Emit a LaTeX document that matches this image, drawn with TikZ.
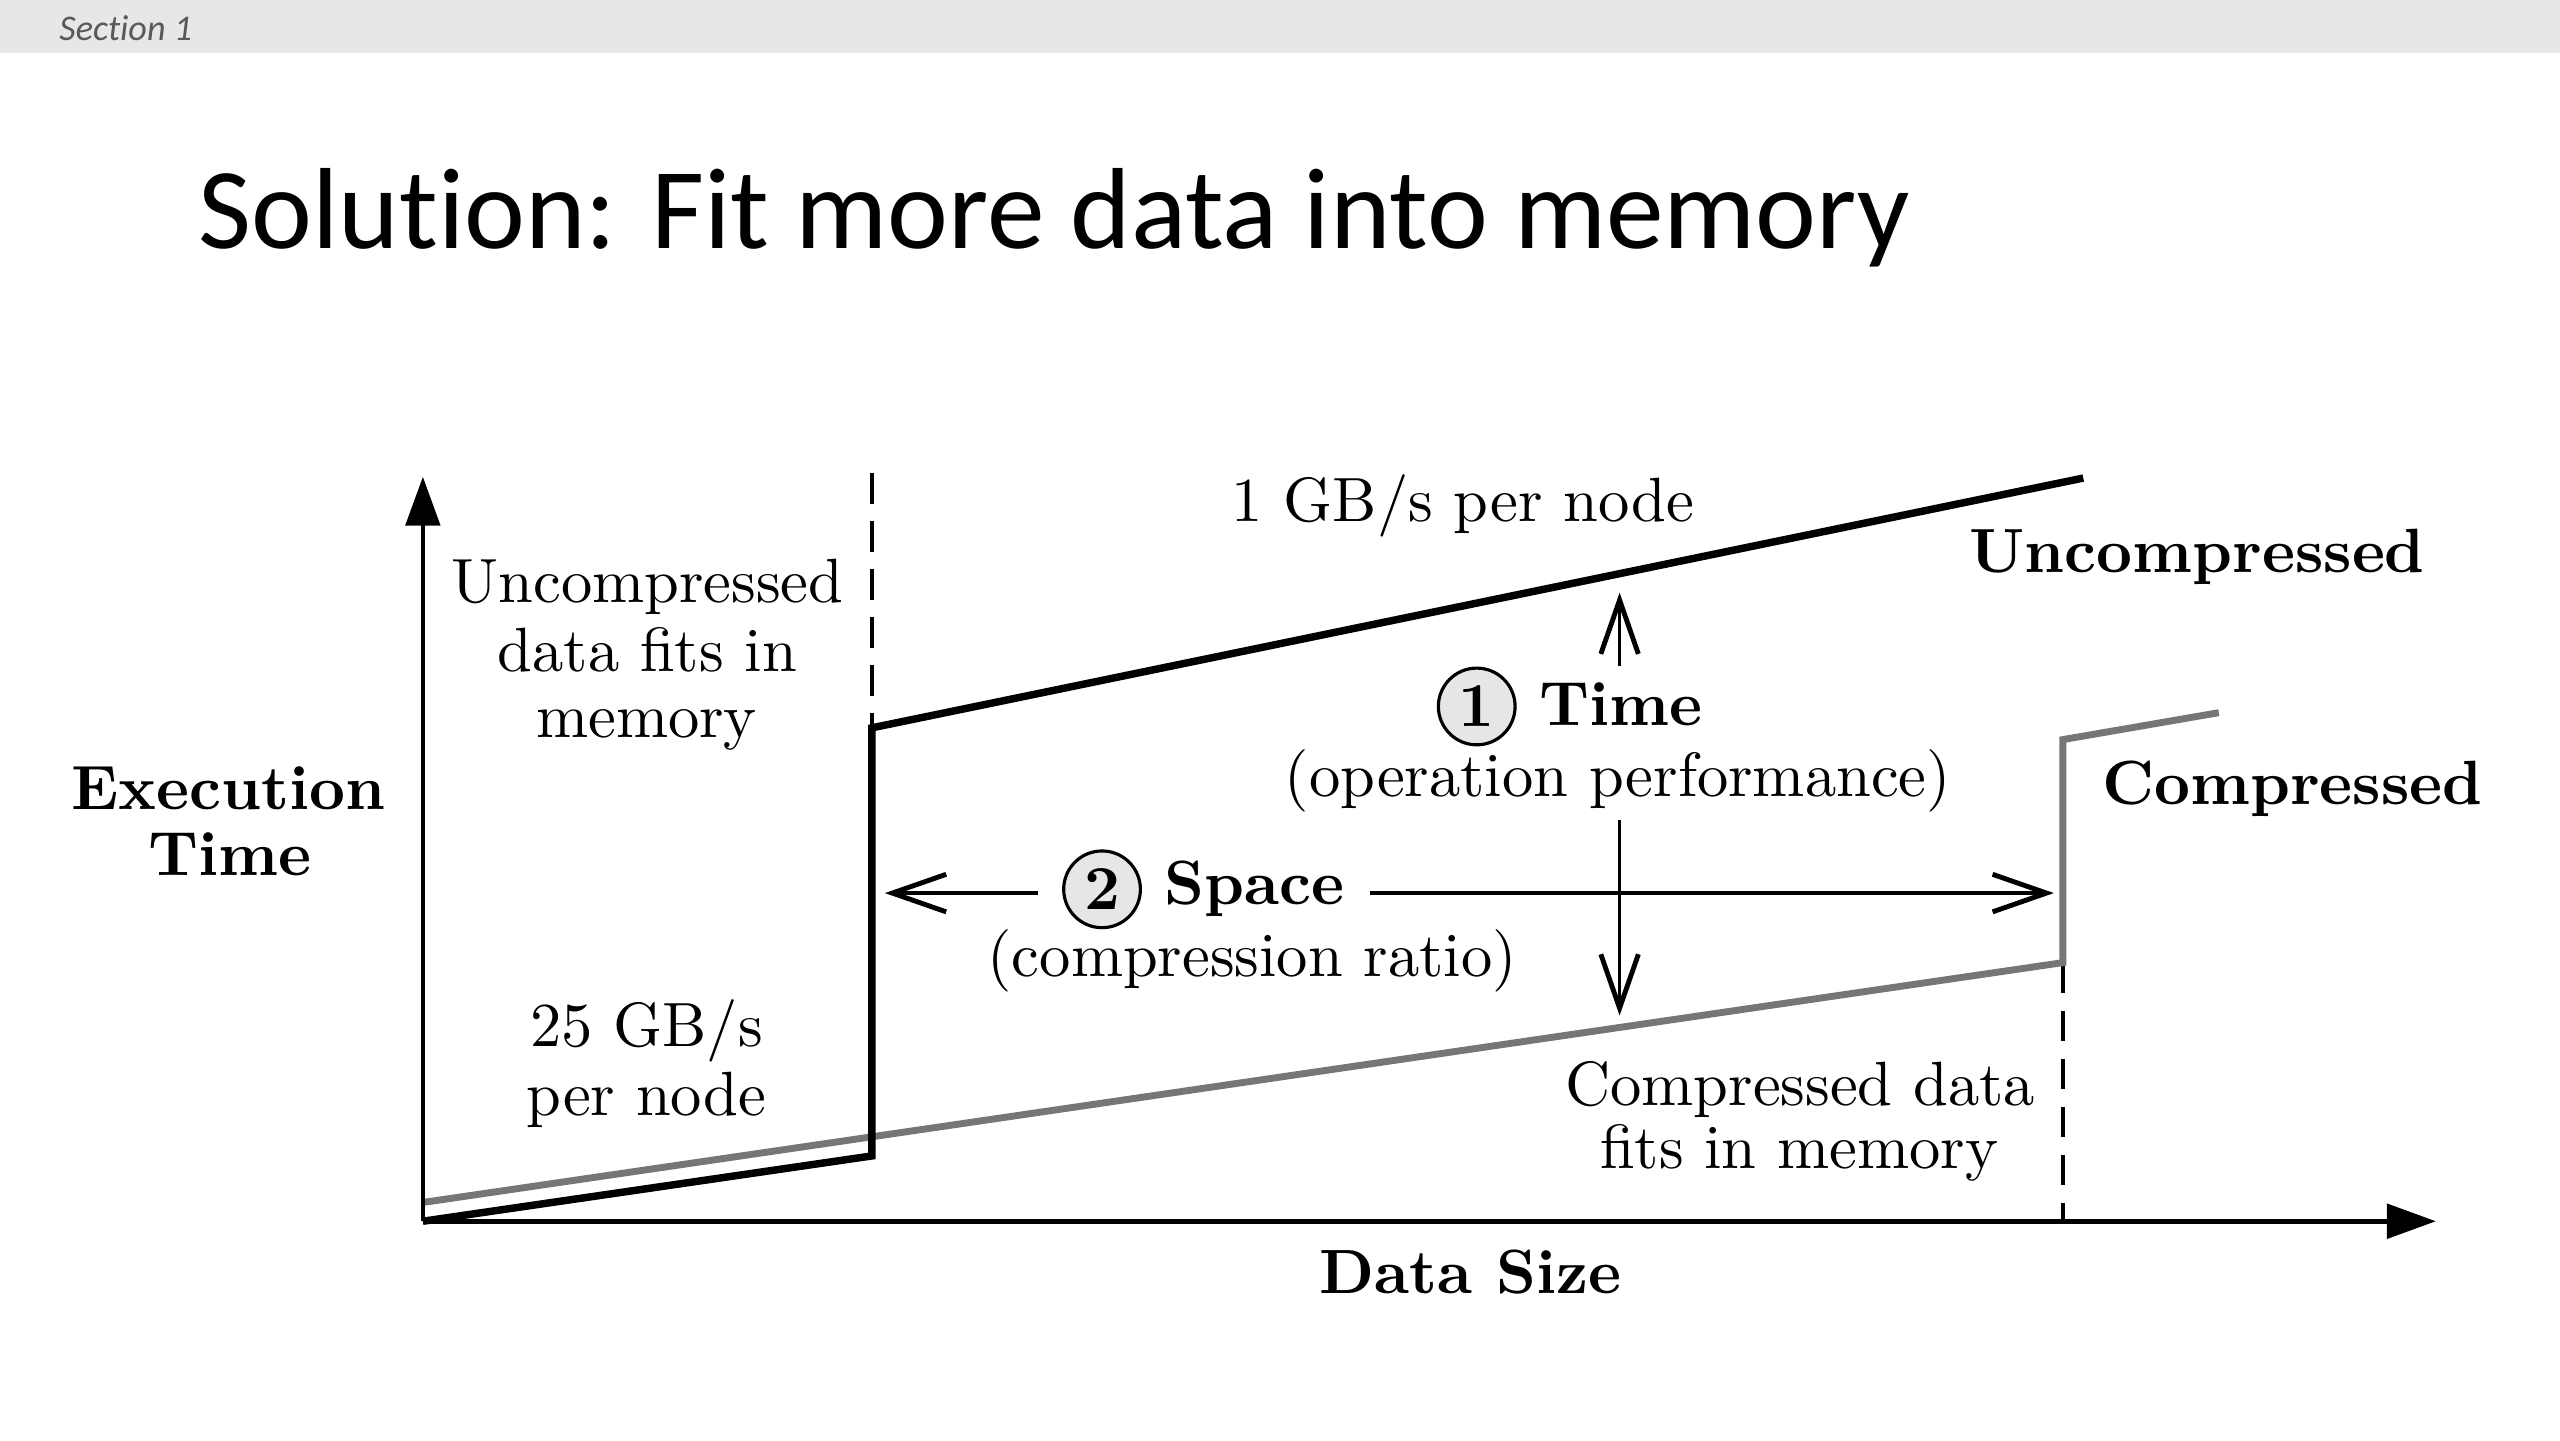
\documentclass[tikz,border=0pt]{standalone}
\usepackage{fontspec}
\newfontfamily\carlito[Ligatures=NoCommon,Contextuals=NoAlternate]{Carlito}
\usetikzlibrary{arrows.meta}
\definecolor{hdrgray}{RGB}{231,231,231}
\definecolor{sectgray}{RGB}{89,89,89}
\definecolor{cmpgray}{RGB}{118,118,118}
\definecolor{circfill}{RGB}{230,230,230}
\begin{document}
\begin{tikzpicture}[x=0.1mm,y=-0.1mm,
  lbl/.style={inner sep=0pt, anchor=base, font=\fontsize{10.9}{12}\selectfont},
  blbl/.style={inner sep=0pt, anchor=base, font=\fontsize{10.9}{12}\selectfont\bfseries},
  axisline/.style={line width=0.8pt, -{Triangle[length=3mm,width=2.1mm]}},
  uncline/.style={line width=1.3pt, line join=miter},
  cmpline/.style={line width=1.2pt, draw=cmpgray, line join=miter},
  memline/.style={line width=0.65pt, dash pattern=on 1.84mm off 1.1mm},
  barb/.style={line width=0.6pt, -{Straight Barb[length=3.3mm,width=2.3mm,line width=0.85pt]}},
  numcirc/.style={circle, draw, line width=0.55pt, fill=circfill, minimum size=4.7mm, inner sep=0pt, font=\fontsize{10.9}{12}\selectfont\bfseries},
]
\useasboundingbox (0,0) rectangle (1568,882);
\fill[white] (0,0) rectangle (1568,882);
% header
\fill[hdrgray] (0,0) rectangle (1568,32.7);
\node[inner sep=0pt, anchor=base west, text=sectgray, font=\carlito\itshape\fontsize{6.3}{7}\selectfont] (sect) at (35.7,24.5) {Section 1};
\node[inner sep=0pt, anchor=base west, font=\carlito\fontsize{20.1}{24}\selectfont] (title) at (121,152) {Solu\kern0pt tion: Fit more data into memory};

% coordinates
\coordinate (O) at (259,748);
\coordinate (ytip) at (259,292);
\coordinate (xtip) at (1492,748);
\coordinate (u1) at (534,708);
\coordinate (u2) at (534,445.8);
\coordinate (u3) at (1276,292.8);
\coordinate (d1top) at (534,290);
\coordinate (c0) at (259,736.5);
\coordinate (c1) at (1263.5,589.6);
\coordinate (c2) at (1263.5,453);
\coordinate (c3) at (1359,436.5);
\coordinate (d2bot) at (1263.5,748);
\coordinate (upS) at (992,408);
\coordinate (upE) at (992,363);
\coordinate (dnS) at (992,502);
\coordinate (dnE) at (992,622);
\coordinate (lS) at (636,547);
\coordinate (lE) at (542,547);
\coordinate (rS) at (839,547);
\coordinate (rE) at (1258,547);

% memory limits
\draw[memline] (d1top) -- (u2);
\draw[memline] (c1) -- (d2bot);

% curves
\draw[cmpline] (c0) -- (c1) -- (c2) -- (c3);
\draw[uncline] (O) -- (u1) -- (u2) -- (u3);

% axes
\draw[axisline] (O) -- (ytip);
\draw[axisline] (O) -- (xtip);

% arrows
\draw[barb] (upS) -- (upE);
\draw[barb] (dnS) -- (dnE);
\draw[barb] (lS) -- (lE);
\draw[barb] (rS) -- (rE);

% labels
\node[blbl] (exec1) at (140,496) {Execution};
\node[blbl] (exec2) at (141,536.5) {Time};
\node[lbl] (ufit1) at (396.7,369.3) {Uncompressed};
\node[lbl] (ufit2) at (396.5,411.5) {data fits in};
\node[lbl] (ufit3) at (396,452) {memory};
\node[lbl] (bw25a) at (396,641) {25 GB/s};
\node[lbl] (bw25b) at (396,683) {per node};
\node[lbl] (bw1) at (896,319.3) {1 GB/s per node};
\node[blbl] (uncomp) at (1345.8,350.5) {Uncompressed};
\node[numcirc] (n1) at (904.5,432.7) {1};
\node[blbl, anchor=base west] (timelbl) at (942,444.3) {Time};
\node[lbl] (oppf) at (991,488) {(operation performance)};
\node[blbl] (comp) at (1404,492.7) {Compressed};
\node[numcirc] (n2) at (675,544.7) {2};
\node[blbl, anchor=base west] (spacelbl) at (712.6,554.2) {Space};
\node[lbl] (cratio) at (767,598) {(compression ratio)};
\node[lbl] (cfit1) at (1102.6,677) {Compressed data};
\node[lbl] (cfit2) at (1102,716) {fits in memory};
\node[blbl] (dsize) at (900.7,792) {Data Size};
\end{tikzpicture}
\end{document}
